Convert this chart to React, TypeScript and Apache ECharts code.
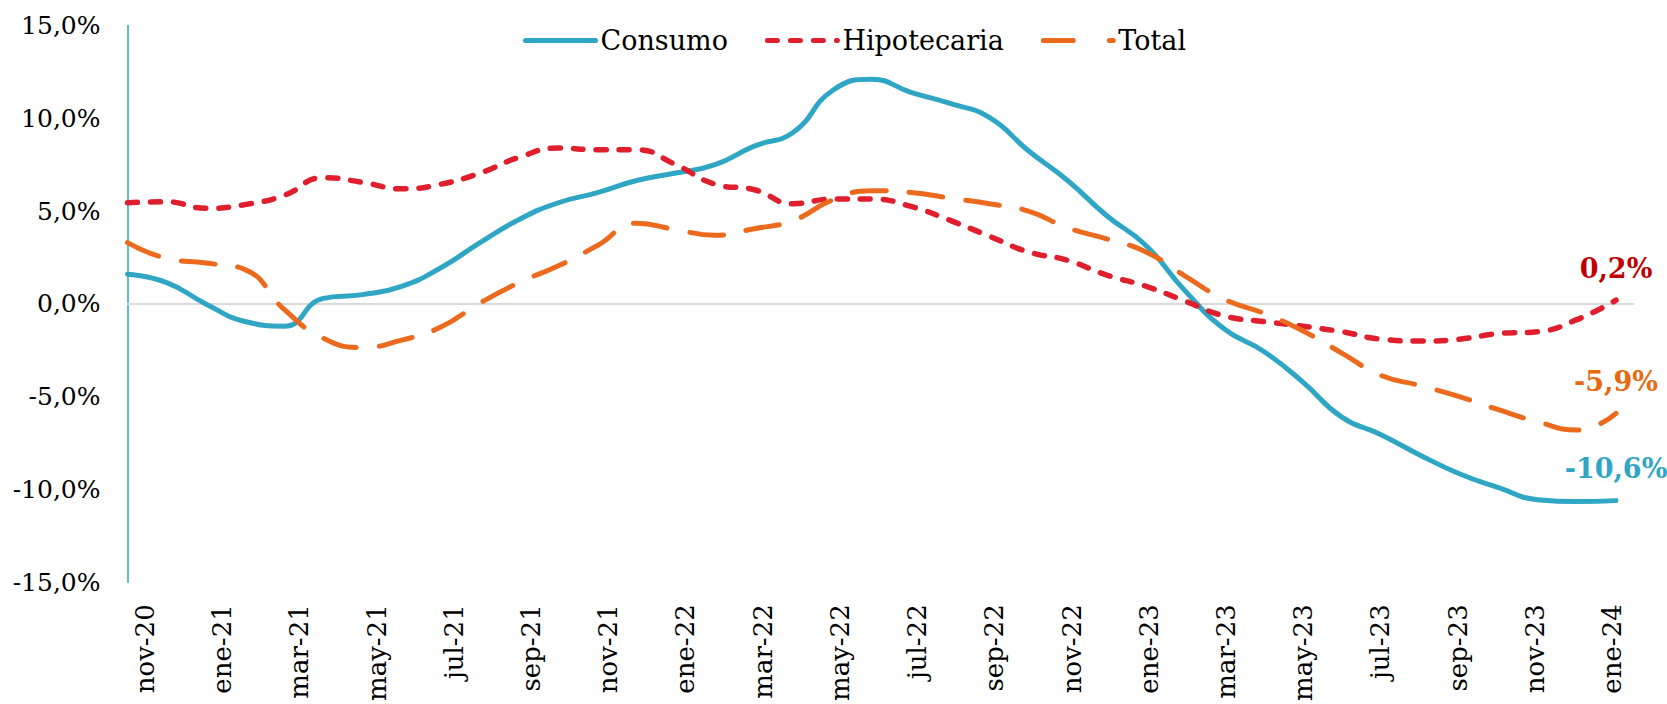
import React, { useEffect, useRef } from 'react';
import * as echarts from 'echarts';

const categories = [
  'nov-20', 'dic-20', 'ene-21', 'feb-21', 'mar-21', 'abr-21', 'may-21', 'jun-21', 'jul-21', 'ago-21',
  'sep-21', 'oct-21', 'nov-21', 'dic-21', 'ene-22', 'feb-22', 'mar-22', 'abr-22', 'may-22', 'jun-22',
  'jul-22', 'ago-22', 'sep-22', 'oct-22', 'nov-22', 'dic-22', 'ene-23', 'feb-23', 'mar-23', 'abr-23',
  'may-23', 'jun-23', 'jul-23', 'ago-23', 'sep-23', 'oct-23', 'nov-23', 'dic-23', 'ene-24',
];

const consumo = [
  1.6, 1.15, 0.0, -0.95, -1.2, 0.3, 0.5, 0.95, 1.95, 3.3,
  4.55, 5.45, 6.0, 6.65, 7.05, 7.5, 8.5, 9.25, 11.5, 12.1,
  11.4, 10.8, 10.05, 8.25, 6.65, 4.75, 3.15, 0.7, -1.35, -2.55,
  -4.2, -6.1, -7.05, -8.15, -9.15, -9.9, -10.55, -10.65, -10.6,
];

const hipotecaria = [
  5.45, 5.5, 5.15, 5.35, 5.85, 6.8, 6.55, 6.2, 6.45, 7.05,
  7.9, 8.4, 8.3, 8.3, 7.5, 6.45, 6.15, 5.4, 5.65, 5.65,
  5.25, 4.5, 3.65, 2.8, 2.35, 1.55, 0.95, 0.15, -0.65, -0.95,
  -1.2, -1.5, -1.9, -2.0, -1.9, -1.6, -1.5, -0.85, 0.2,
];

const total = [
  3.3, 2.45, 2.2, 1.85, -0.3, -1.85, -2.35, -1.95, -1.25, 0.05,
  1.15, 2.05, 3.15, 4.35, 4.0, 3.7, 4.05, 4.5, 5.6, 6.1,
  6.0, 5.7, 5.4, 5.0, 4.1, 3.5, 2.8, 1.5, 0.25, -0.5,
  -1.45, -2.65, -3.85, -4.4, -5.0, -5.7, -6.35, -6.8, -5.9,
];

// every second month carries a tick label
const labelIndexes = categories.map((_, i) => i).filter((i) => i % 2 === 0);

const seriesNames = ['Consumo', 'Hipotecaria', 'Total'];
const yMin = -15;
const yMax = 15;
const yStep = 5;

const FONT = 'DejaVu Serif';
const fmt = (v: number) => v.toFixed(1).replace('.', ',') + '%';

export default function App() {
  const ref = useRef<HTMLDivElement>(null);

  useEffect(() => {
    const chart = echarts.init(ref.current as HTMLDivElement, null, { renderer: 'svg' });
    const last = categories.length - 1;
    const pairs = (arr: number[]) => arr.map((v, i) => [i, v]);

    const endLabel = (data: number[], color: string) => ({
      silent: true,
      symbol: 'circle',
      symbolSize: 1,
      itemStyle: { color: 'rgba(0,0,0,0)' },
      label: {
        show: true,
        position: 'top',
        distance: 18,
        formatter: (p: any) => fmt(p.value),
        color,
        fontFamily: FONT,
        fontWeight: 'bold',
        fontSize: 27,
      },
      data: [{ coord: [last, data[last]], value: data[last] }],
    });

    chart.setOption({
      animation: false,
      backgroundColor: '#ffffff',
      grid: { left: 127.5, right: 34, top: 25.5, bottom: 120, containLabel: false },
      legend: {
        left: 523,
        top: 27,
        padding: 0,
        itemWidth: 70,
        itemHeight: 14,
        itemGap: 37,
        itemStyle: { color: 'rgba(0,0,0,0)', borderWidth: 0, opacity: 0 },
        lineStyle: { width: 5, cap: 'round' },
        textStyle: { fontFamily: FONT, fontSize: 27, color: '#000' },
        data: [
          { name: seriesNames[0] },
          { name: seriesNames[1] },
          { name: seriesNames[2], lineStyle: { type: [30, 36], width: 5, cap: 'round' } },
        ],
      },
      xAxis: [
        {
          // data axis: its line is the zero line
          type: 'value',
          min: 0,
          max: 38.434,
          position: 'bottom',
          axisLine: { show: true, onZero: true, lineStyle: { color: '#d9d9d9', width: 2 } },
          axisTick: { show: false },
          axisLabel: { show: false },
          splitLine: { show: false },
        },
        {
          // label axis
          type: 'value',
          min: -0.453,
          max: 38.542,
          position: 'bottom',
          axisLine: { show: false, onZero: false },
          axisTick: { show: false },
          splitLine: { show: false },
          axisLabel: {
            customValues: labelIndexes,
            formatter: (v: number) => categories[Math.round(v)] ?? '',
            rotate: 90,
            margin: 22,
            fontFamily: FONT,
            fontSize: 26,
            color: '#000',
          },
        },
      ],
      yAxis: {
        type: 'value',
        min: yMin,
        max: yMax,
        interval: yStep,
        axisLine: { show: true, lineStyle: { color: '#2ea6c4', width: 1.5 } },
        axisTick: { show: false },
        splitLine: { show: false },
        axisLabel: {
          formatter: (v: number) => fmt(v),
          margin: 27,
          fontFamily: FONT,
          fontSize: 25,
          color: '#000',
        },
      },
      series: [
        {
          name: seriesNames[0],
          type: 'line',
          xAxisIndex: 0,
          data: pairs(consumo),
          smooth: 0.5,
          symbol: 'none',
          lineStyle: { color: '#2ea6c4', width: 5, cap: 'round' },
          itemStyle: { color: '#2ea6c4' },
          markPoint: endLabel(consumo, '#2ea6c4'),
        },
        {
          name: seriesNames[1],
          type: 'line',
          xAxisIndex: 0,
          data: pairs(hipotecaria),
          smooth: 0.5,
          symbol: 'none',
          lineStyle: { color: '#df1f2d', width: 5.5, type: [10, 13], cap: 'round' },
          itemStyle: { color: '#df1f2d' },
          markPoint: endLabel(hipotecaria, '#c00000'),
        },
        {
          name: seriesNames[2],
          type: 'line',
          xAxisIndex: 0,
          data: pairs(total),
          smooth: 0.5,
          symbol: 'none',
          lineStyle: { color: '#ec6a1e', width: 5, type: [34, 23], cap: 'round' },
          itemStyle: { color: '#ec6a1e' },
          markPoint: endLabel(total, '#e8690f'),
        },
      ],
    });

    return () => chart.dispose();
  }, []);

  return (
    <div
      ref={ref}
      style={{ position: 'absolute', left: 0, top: 0, width: 1667, height: 704 }}
    />
  );
}
